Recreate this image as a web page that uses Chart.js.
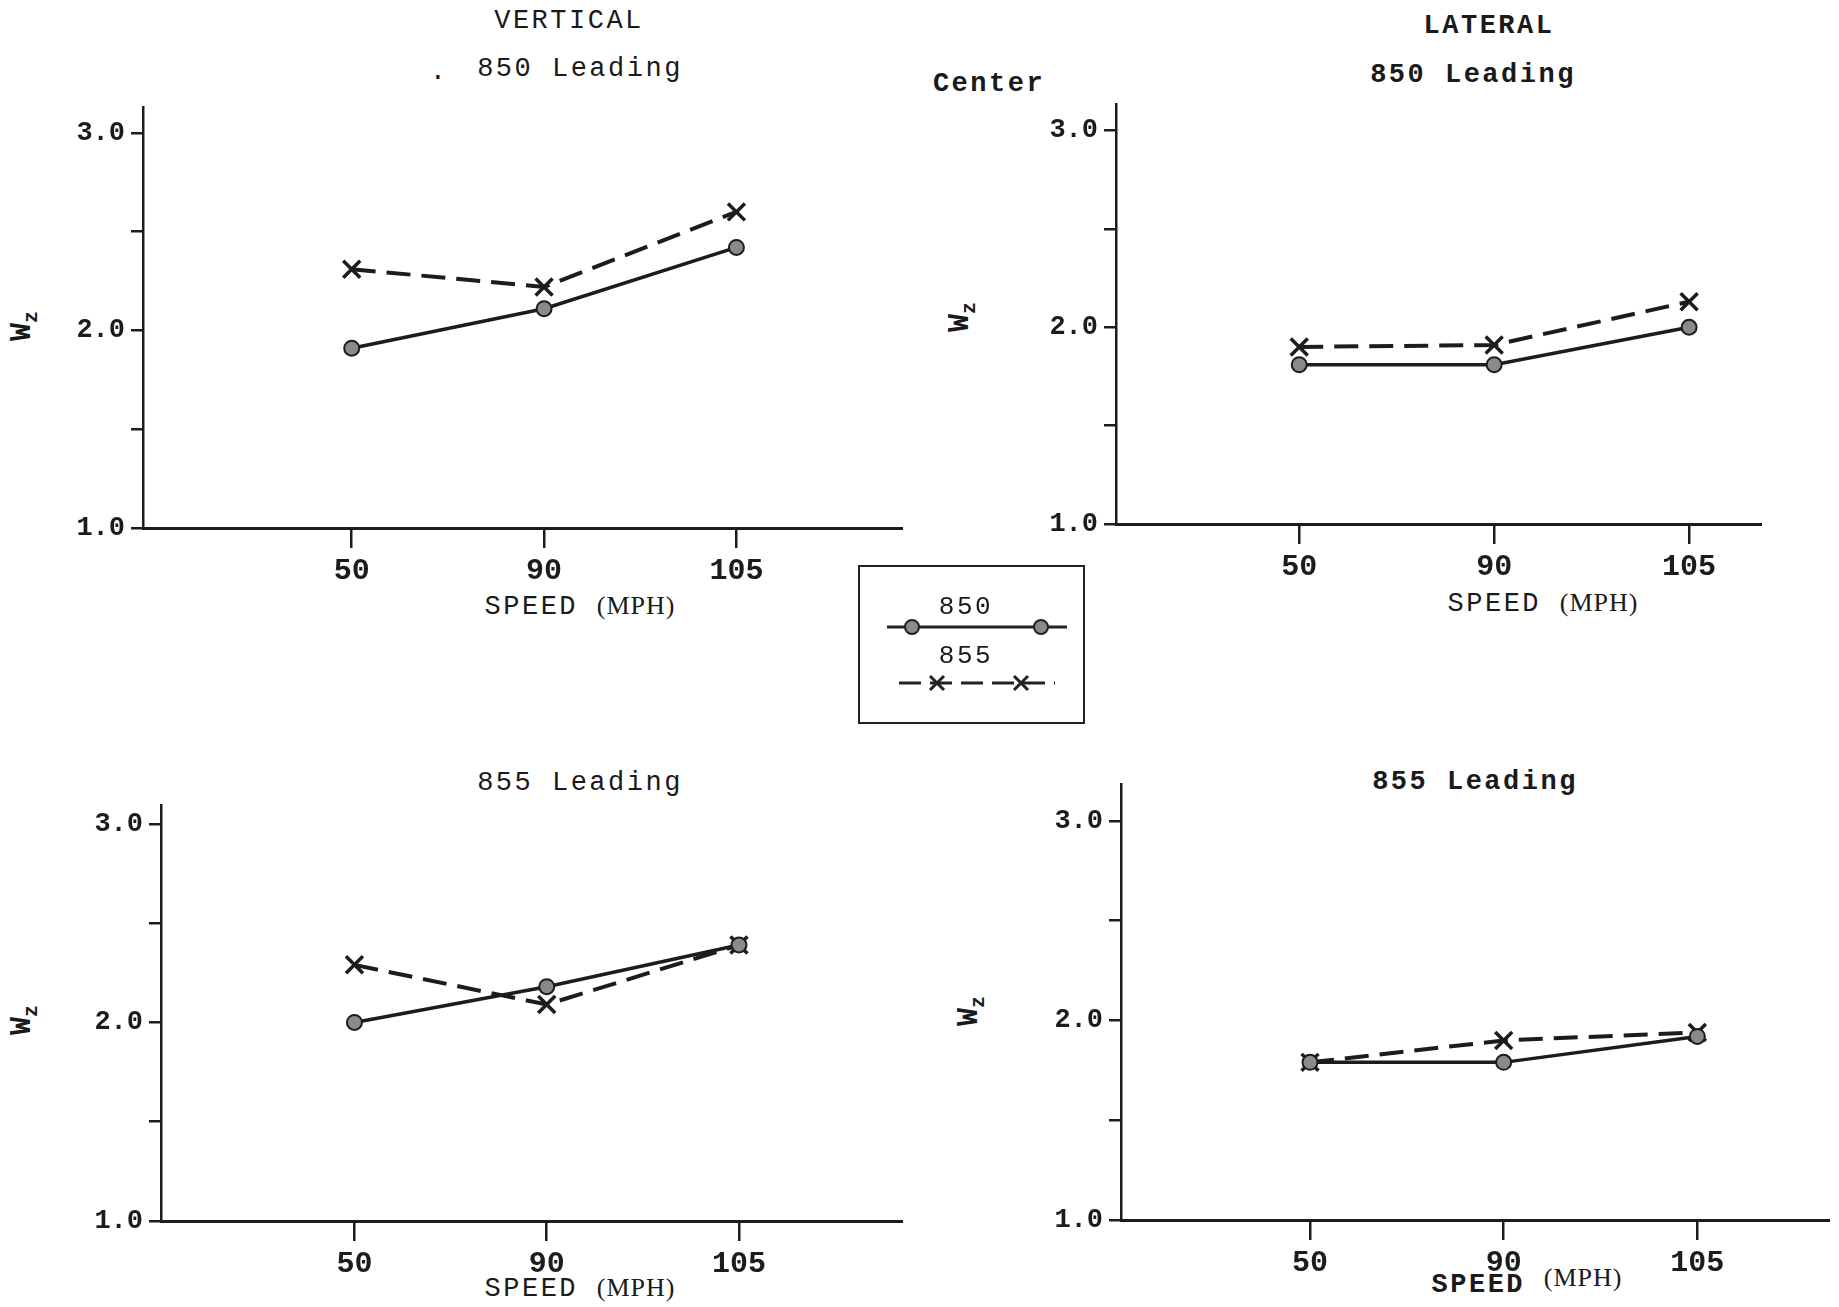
<!DOCTYPE html>
<html>
<head>
<meta charset="utf-8">
<script src="https://cdn.jsdelivr.net/npm/chart.js@4"></script>
<style>
  body { margin: 0; background: #fff; width: 1839px; height: 1307px; position: relative; overflow: hidden; font-family: "Liberation Mono", monospace; color: #1a1a1a; }
  .box { position: absolute; }
  .t { position: absolute; transform: translate(-50%, -50%); white-space: nowrap; font-size: 27px; letter-spacing: 2.5px; }
  .b { font-weight: bold; }
  .wz { position: absolute; transform: translate(-50%, -50%) rotate(-90deg); font-weight: bold; font-size: 30px; white-space: nowrap; }
  .wz sub { font-size: 20px; }
  .mph { font-weight: normal; font-family: "Liberation Serif", serif; font-size: 26px; letter-spacing: 1px; }
  #legend { position: absolute; left: 858px; top: 565px; width: 223px; height: 155px; border: 2.5px solid #222; }
</style>
</head>
<body>

<div class="t" style="left:569px; top:21px;">VERTICAL</div>
<div class="t" style="left:439px; top:72px;">.</div>
<div class="t" style="left:580px; top:69px;">850 Leading</div>
<div class="t b" style="left:1489px; top:26px;">LATERAL</div>
<div class="t b" style="left:1473px; top:75px;">850 Leading</div>
<div class="t b" style="left:989px; top:84px;">Center</div>
<div class="t" style="left:580px; top:783px;">855 Leading</div>
<div class="t b" style="left:1475px; top:782px;">855 Leading</div>

<div class="t" style="left:580px; top:606px;">SPEED <span class="mph">(MPH)</span></div>
<div class="t" style="left:1543px; top:603px;">SPEED <span class="mph">(MPH)</span></div>
<div class="t" style="left:580px; top:1288px;">SPEED <span class="mph">(MPH)</span></div>
<div class="t b" style="left:1527px; top:1281px;">SPEED <span class="mph" style="vertical-align:6px;">(MPH)</span></div>

<div class="wz" style="left:24px; top:326px;">W<sub>z</sub></div>
<div class="wz" style="left:962px; top:317px;">W<sub>z</sub></div>
<div class="wz" style="left:24px; top:1020px;">W<sub>z</sub></div>
<div class="wz" style="left:971px; top:1011px;">W<sub>z</sub></div>

<div class="box" id="p1"><canvas id="c1"></canvas></div>
<div class="box" id="p2"><canvas id="c2"></canvas></div>
<div class="box" id="p3"><canvas id="c3"></canvas></div>
<div class="box" id="p4"><canvas id="c4"></canvas></div>

<div id="legend">
  <div class="t" style="left:106px; top:40px; font-size:26px;">850</div>
  <div class="t" style="left:106px; top:89px; font-size:26px;">855</div>
  <svg width="223" height="155" style="position:absolute; left:0; top:0;">
    <line x1="27" y1="60" x2="207" y2="60" stroke="#222" stroke-width="3"/>
    <circle cx="52" cy="60" r="7" fill="#8a8a8a" stroke="#222" stroke-width="2"/>
    <circle cx="181" cy="60" r="7" fill="#8a8a8a" stroke="#222" stroke-width="2"/>
    <line x1="39" y1="116" x2="195" y2="116" stroke="#222" stroke-width="3" stroke-dasharray="22 9"/>
    <path d="M70 109 L84 123 M84 109 L70 123 M154 109 L168 123 M168 109 L154 123" stroke="#222" stroke-width="3"/>
  </svg>
</div>

<script>
// Categorías del eje x (velocidad, MPH)
const speeds = ["50", "90", "105"];
const yTickValues = [1, 1.5, 2, 2.5, 3];

// Valores W_z
const vert850Lead_850 = [1.91, 2.11, 2.42];
const vert850Lead_855 = [2.31, 2.22, 2.60];
const lat850Lead_850 = [1.81, 1.81, 2.00];
const lat850Lead_855 = [1.90, 1.91, 2.13];
const vert855Lead_850 = [2.00, 2.18, 2.39];
const vert855Lead_855 = [2.29, 2.09, 2.39];
const lat855Lead_850 = [1.79, 1.79, 1.92];
const lat855Lead_855 = [1.79, 1.90, 1.94];

const Y_W = 100;  // ancho fijo del eje y
const X_H = 70;   // alto fijo del eje x

// posición de cada panel: eje y en axisX, eje x en bottom, extremo derecho y superior
const panels = [
  { id: "1", a: vert850Lead_850, b: vert850Lead_855, axisX: 143, right: 903,  top: 106, bottom: 528,  xmin: -1.085, xmax: 2.866, ymax: 3.136 },
  { id: "2", a: lat850Lead_850,  b: lat850Lead_855,  axisX: 1116, right: 1762, top: 103, bottom: 524, xmin: -0.94,  xmax: 2.374, ymax: 3.14 },
  { id: "3", a: vert855Lead_850, b: vert855Lead_855, axisX: 161, right: 903,  top: 804, bottom: 1221, xmin: -1.006, xmax: 2.853, ymax: 3.10 },
  { id: "4", a: lat855Lead_850,  b: lat855Lead_855,  axisX: 1121, right: 1830, top: 783, bottom: 1220, xmin: -0.976, xmax: 2.685, ymax: 3.19 }
];

const ink = "#1c1c1c";
const toPts = arr => arr.map((v, i) => ({ x: i, y: v }));

panels.forEach(p => {
  const box = document.getElementById("p" + p.id);
  box.style.left = (p.axisX - Y_W) + "px";
  box.style.top = p.top + "px";
  box.style.width = (Y_W + p.right - p.axisX) + "px";
  box.style.height = (p.bottom - p.top + X_H) + "px";

  new Chart(document.getElementById("c" + p.id), {
    type: "line",
    data: {
      datasets: [
        {
          label: "850",
          data: toPts(p.a),
          borderColor: ink,
          borderWidth: 3.5,
          pointStyle: "circle",
          pointRadius: 7.5,
          pointBackgroundColor: "#8a8a8a",
          pointBorderColor: ink,
          pointBorderWidth: 2,
          clip: false
        },
        {
          label: "855",
          data: toPts(p.b),
          borderColor: ink,
          borderWidth: 4,
          borderDash: [24, 11],
          pointStyle: "crossRot",
          pointRadius: 12,
          pointBorderColor: ink,
          pointBorderWidth: 3.5,
          clip: false
        }
      ]
    },
    options: {
      responsive: true,
      maintainAspectRatio: false,
      animation: false,
      layout: { padding: 0, autoPadding: false },
      plugins: { legend: { display: false }, tooltip: { enabled: false } },
      scales: {
        x: {
          type: "linear",
          min: p.xmin,
          max: p.xmax,
          afterBuildTicks: s => { s.ticks = speeds.map((_, i) => ({ value: i })); },
          afterFit: s => { s.height = X_H; s.paddingLeft = 0; s.paddingRight = 0; },
          ticks: {
            callback: v => speeds[v],
            color: ink,
            padding: 5,
            maxRotation: 0,
            font: { family: "Liberation Mono", size: 30, weight: "bold" }
          },
          grid: { drawOnChartArea: false, tickLength: 20, color: ink, lineWidth: 2.5 },
          border: { color: ink, width: 3 }
        },
        y: {
          min: 1,
          max: p.ymax,
          afterBuildTicks: s => { s.ticks = yTickValues.map(v => ({ value: v })); },
          afterFit: s => { s.width = Y_W; s.paddingTop = 0; s.paddingBottom = 0; },
          ticks: {
            callback: v => Number.isInteger(v) ? v.toFixed(1) : "",
            color: ink,
            padding: 6,
            font: { family: "Liberation Mono", size: 27, weight: "bold" }
          },
          grid: { drawOnChartArea: false, tickLength: 12, color: ink, lineWidth: 2.5 },
          border: { color: ink, width: 2.5 }
        }
      }
    }
  });
});
</script>
</body>
</html>
